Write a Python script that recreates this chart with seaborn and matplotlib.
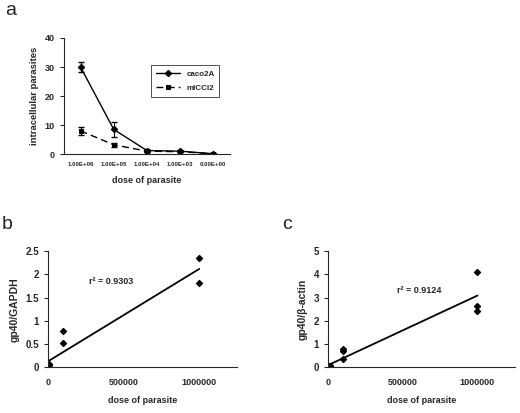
import numpy as np
import pandas as pd
import matplotlib
matplotlib.use('Agg')
import matplotlib.pyplot as plt
import seaborn as sns

# ==============================================================================
# DATA
# ==============================================================================
dose_labels = ['1.00E+06', '1.00E+05', '1.00E+04', '1.00E+03', '0.00E+00']
caco2A = [30.0, 8.5, 1.2, 1.0, 0.1]
caco2A_err = [1.8, 2.7, 0.4, 0.3, 0.1]
miccl2 = [8.0, 3.2, 1.0, 0.8, 0.1]
miccl2_err = [1.3, 0.7, 0.3, 0.2, 0.1]

# panel b: gp40/GAPDH vs dose (duplicates)
b_dose = [0, 0, 1000, 1000, 10000, 10000, 100000, 100000, 1000000, 1000000]
b_ratio = [0.01, 0.02, 0.03, 0.02, 0.05, 0.06, 0.77, 0.53, 2.36, 1.81]
b_r2 = 'r² = 0.9303'

# panel c: gp40/beta-actin vs dose (triplicates)
c_dose = [0, 0, 0, 1000, 1000, 1000, 10000, 10000, 10000,
          100000, 100000, 100000, 1000000, 1000000, 1000000]
c_ratio = [0.01, 0.02, 0.03, 0.02, 0.03, 0.04, 0.03, 0.04, 0.05,
           0.80, 0.68, 0.36, 4.12, 2.65, 2.42]
c_r2 = 'r² = 0.9124'

# ==============================================================================
# STYLE
# ==============================================================================
sns.set_style('ticks')
plt.rcParams['font.family'] = ['Liberation Sans', 'DejaVu Sans']
plt.rcParams['font.weight'] = 'bold'
plt.rcParams['axes.linewidth'] = 0.8
plt.rcParams['xtick.major.size'] = 3
plt.rcParams['ytick.major.size'] = 3
plt.rcParams['xtick.major.width'] = 0.8
plt.rcParams['ytick.major.width'] = 0.8

fig = plt.figure(figsize=(5.2, 4.13), dpi=100)
ax_a = fig.add_axes([0.123, 0.627, 0.319, 0.281])
ax_b = fig.add_axes([0.092, 0.111, 0.364, 0.281])
ax_c = fig.add_axes([0.631, 0.111, 0.359, 0.281])

# ==============================================================================
# PANEL A
# ==============================================================================
pos = np.arange(len(dose_labels))
df_a = pd.DataFrame({
    'pos': np.concatenate([pos, pos]),
    'value': caco2A + miccl2,
    'cell': ['caco2A'] * len(pos) + ['mICCl2'] * len(pos),
})
sns.lineplot(data=df_a, x='pos', y='value', style='cell', markers={'caco2A': 'D', 'mICCl2': 's'},
             dashes={'caco2A': '', 'mICCl2': (5, 3)}, color='black', markersize=3.3,
             markeredgecolor='black', linewidth=1.0, ax=ax_a)
ax_a.errorbar(pos, caco2A, yerr=caco2A_err, fmt='none', ecolor='black', elinewidth=0.8, capsize=2.2)
ax_a.errorbar(pos, miccl2, yerr=miccl2_err, fmt='none', ecolor='black', elinewidth=0.8, capsize=2.2)
ax_a.set_xlim(-0.5, len(pos) - 0.5)
ax_a.set_ylim(0, 40)
ax_a.set_yticks([0, 10, 20, 30, 40])
ax_a.set_xticks(pos)
ax_a.set_xticklabels(dose_labels, fontsize=4.4, fontweight='bold')
ax_a.tick_params(axis='x', length=0, pad=6)
ax_a.tick_params(axis='y', labelsize=6.5)
ax_a.set_xlabel('dose of parasite', fontsize=6.5, fontweight='bold', labelpad=6)
ax_a.set_ylabel('intracellular parasites', fontsize=6.8, fontweight='bold', labelpad=4)
leg = ax_a.legend(loc='upper left', bbox_to_anchor=(0.5, 0.8), fontsize=5.8, frameon=True,
                  fancybox=False, edgecolor='black', handlelength=3, borderpad=0.6, labelspacing=0.8)
leg.get_frame().set_linewidth(0.6)
sns.despine(ax=ax_a)
fig.text(0.01, 0.964, 'a', fontsize=14, fontweight='normal', va='baseline')

# ==============================================================================
# PANEL B & C
# ==============================================================================
def scatter_panel(ax, x, y, r2, ylabel, ylim, yticks, r2_pos):
    sns.regplot(x=x, y=y, ci=None, marker='D', color='black', ax=ax,
                scatter_kws={'s': 9, 'alpha': 1}, line_kws={'linewidth': 1.3})
    ax.set_xlim(0, 1250000)
    ax.set_ylim(*ylim)
    ax.set_xticks([0, 500000, 1000000])
    ax.set_xticklabels(['0', '500000', '1000000'])
    ax.set_yticks(yticks)
    ax.set_yticklabels([f'{v:g}' for v in yticks])
    ax.tick_params(axis='x', length=0, pad=8, labelsize=6.5)
    ax.tick_params(axis='y', labelsize=7)
    ax.set_xlabel('dose of parasite', fontsize=6.5, fontweight='bold', labelpad=6)
    ax.set_ylabel(ylabel, fontsize=7.5, fontweight='bold')
    ax.text(r2_pos[0], r2_pos[1], r2, fontsize=6.5, fontweight='bold', transform=ax.transAxes)
    sns.despine(ax=ax)

scatter_panel(ax_b, b_dose, b_ratio, b_r2, 'gp40/GAPDH', (0, 2.5),
              [0, 0.5, 1, 1.5, 2, 2.5], (0.22, 0.72))
scatter_panel(ax_c, c_dose, c_ratio, c_r2, 'gp40/β-actin', (0, 5),
              [0, 1, 2, 3, 4, 5], (0.37, 0.64))
fig.text(0.004, 0.446, 'b', fontsize=14, fontweight='normal', va='baseline')
fig.text(0.542, 0.446, 'c', fontsize=14, fontweight='normal', va='baseline')

fig.savefig('out.png', dpi=100, facecolor='white')
